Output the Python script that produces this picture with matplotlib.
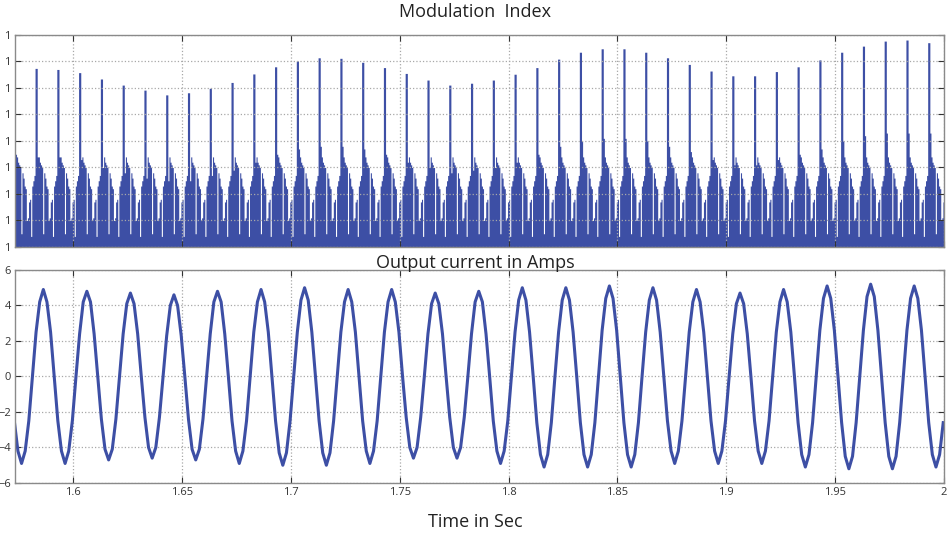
import numpy as np
import matplotlib
matplotlib.use("Agg")
import matplotlib.pyplot as plt

plt.rcParams['font.family'] = ['Open Sans', 'DejaVu Sans']

# ---- modulation index (top) ----
# one tall spike every 10 ms, first one sits just left of the view
spike_start = 1.5725
sample_dt = 0.0005
spike_height = [6.8, 6.74, 6.70, 6.58, 6.34, 6.11, 5.92, 5.74, 5.82, 5.99, 6.21,
                6.53, 6.80, 7.02, 7.14, 7.12, 6.97, 6.77, 6.55, 6.30, 6.11, 6.18,
                6.30, 6.52, 6.77, 7.09, 7.35, 7.48, 7.48, 7.35, 7.14, 6.89, 6.64,
                6.46, 6.46, 6.62, 6.80, 7.06, 7.35, 7.58, 7.77, 7.81, 7.71]
after_spike = [3.5, 3.4, 3.4, 3.3, 3.0, 2.8, 2.6, 2.5, 2.5, 2.7, 2.9, 3.2, 3.5,
               3.7, 3.8, 3.8, 3.7, 3.5, 3.2, 3.0, 2.8, 2.9, 3.0, 3.2, 3.5, 3.8,
               4.0, 4.1, 4.1, 4.0, 3.8, 3.6, 3.3, 3.1, 3.1, 3.3, 3.5, 3.7, 4.0,
               4.2, 4.3, 4.3, 4.3]
# samples between spikes (index 3..19 of each 10 ms slot)
between = [3.4, 3.2, 3.1, 3.0, 0.5, 2.8, 2.6, 2.3, 2.2, 1.0, 1.1, 1.7, 1.8,
           0.4, 2.3, 2.5, 2.7]
mod_ticks = [0, 1, 2, 3, 4, 5, 6, 7, 8]
mod_labels = ['1'] * 9

# ---- output current (bottom) ----
cur_start = 1.57297
cur_dt = 0.02 / 12
current = [
    -2.5, -4.2,
    -4.9, -4.2, -2.5, 0.0, 2.5, 4.2, 4.9, 4.2, 2.5, 0.0, -2.5, -4.2,
    -4.9, -4.2, -2.5, 0.0, 2.4, 4.2, 4.8, 4.2, 2.4, 0.0, -2.4, -4.1,
    -4.7, -4.1, -2.4, 0.0, 2.4, 4.1, 4.7, 4.1, 2.4, 0.0, -2.3, -4.0,
    -4.6, -4.0, -2.3, 0.0, 2.3, 4.0, 4.6, 4.0, 2.3, 0.0, -2.4, -4.1,
    -4.7, -4.1, -2.4, 0.0, 2.4, 4.2, 4.8, 4.2, 2.4, 0.0, -2.5, -4.2,
    -4.9, -4.2, -2.5, 0.0, 2.5, 4.2, 4.9, 4.2, 2.5, 0.0, -2.5, -4.3,
    -5.0, -4.3, -2.5, 0.0, 2.5, 4.3, 5.0, 4.3, 2.5, 0.0, -2.5, -4.3,
    -5.0, -4.3, -2.5, 0.0, 2.5, 4.2, 4.9, 4.2, 2.5, 0.0, -2.5, -4.2,
    -4.9, -4.2, -2.5, 0.0, 2.5, 4.2, 4.9, 4.2, 2.5, 0.0, -2.3, -4.0,
    -4.6, -4.0, -2.3, 0.0, 2.4, 4.1, 4.7, 4.1, 2.4, 0.0, -2.3, -4.0,
    -4.6, -4.0, -2.3, 0.0, 2.4, 4.2, 4.8, 4.2, 2.4, 0.0, -2.5, -4.2,
    -4.9, -4.2, -2.5, 0.0, 2.5, 4.3, 5.0, 4.3, 2.5, 0.0, -2.6, -4.4,
    -5.1, -4.4, -2.6, 0.0, 2.5, 4.3, 5.0, 4.3, 2.5, 0.0, -2.6, -4.4,
    -5.1, -4.4, -2.6, 0.0, 2.6, 4.4, 5.1, 4.4, 2.6, 0.0, -2.6, -4.4,
    -5.1, -4.4, -2.6, 0.0, 2.5, 4.3, 5.0, 4.3, 2.5, 0.0, -2.5, -4.2,
    -4.9, -4.2, -2.5, 0.0, 2.5, 4.2, 4.9, 4.2, 2.5, 0.0, -2.5, -4.2,
    -4.9, -4.2, -2.5, 0.0, 2.4, 4.1, 4.7, 4.1, 2.4, 0.0, -2.5, -4.2,
    -4.9, -4.2, -2.5, 0.0, 2.5, 4.2, 4.9, 4.2, 2.5, 0.0, -2.6, -4.4,
    -5.1, -4.4, -2.6, 0.0, 2.6, 4.4, 5.1, 4.4, 2.6, 0.0, -2.6, -4.5,
    -5.2, -4.5, -2.6, 0.0, 2.6, 4.5, 5.2, 4.5, 2.6, 0.0, -2.6, -4.5,
    -5.2, -4.5, -2.6, 0.0, 2.6, 4.4, 5.1, 4.4, 2.6, 0.0, -2.6, -4.4,
    -5.1, -4.4, -2.6,
]
x_ticks = [1.6, 1.65, 1.7, 1.75, 1.8, 1.85, 1.9, 1.95, 2.0]
x_labels = ['1.6', '1.65', '1.7', '1.75', '1.8', '1.85', '1.9', '1.95', '2']
cur_ticks = [-6, -4, -2, 0, 2, 4, 6]

blue = '#3d4fa5'
xmin, xmax = 1.5733, 2.0

# build the sample sequence for the top plot
mod_vals = []
for s, a in zip(spike_height, after_spike):
    mod_vals += [s, s, a] + between
mod_t = spike_start + sample_dt * np.arange(len(mod_vals))
cur_t = cur_start + cur_dt * np.arange(len(current))

fig = plt.figure(figsize=(9.5, 5.36), dpi=100)
ax1 = fig.add_axes([0.0158, 0.5392, 0.9779, 0.3955])
ax2 = fig.add_axes([0.0158, 0.0989, 0.9779, 0.3974])

ax1.fill_between(mod_t, 0, mod_vals, step='post', color=blue, linewidth=0)
ax1.set_ylim(0, 8)
ax1.set_yticks(mod_ticks)
ax1.set_yticklabels(mod_labels)
ax1.set_xticks(x_ticks)
ax1.set_xticklabels([])

ax2.plot(cur_t, current, color=blue, lw=2.2)
ax2.set_ylim(-6, 6)
ax2.set_yticks(cur_ticks)
ax2.set_xticks(x_ticks)
ax2.set_xticklabels(x_labels)

for ax in (ax1, ax2):
    ax.set_xlim(xmin, xmax)
    ax.grid(True, linestyle=':', color='#a8a8a8', lw=0.9)
    ax.tick_params(direction='in', top=True, right=True, length=4,
                   labelsize=8, colors='#333333', pad=3)
    for sp in ax.spines.values():
        sp.set_color('#8a8a8a')
        sp.set_linewidth(1.0)

fig.text(0.5, 1 - 12 / 536, 'Modulation  Index', ha='center', va='center',
         fontsize=13, color='#222222')
fig.text(0.5, 1 - 263 / 536, 'Output current in Amps', ha='center', va='center',
         fontsize=13, color='#222222')
fig.text(0.5, 1 - 522 / 536, 'Time in Sec', ha='center', va='center',
         fontsize=13, color='#222222')

fig.savefig('out.png', dpi=100)
